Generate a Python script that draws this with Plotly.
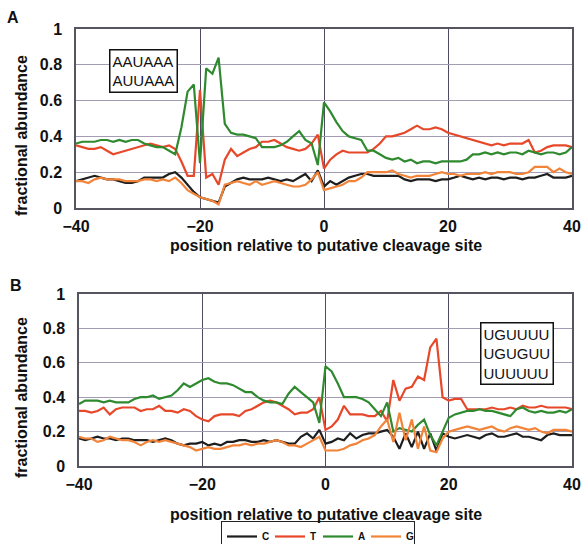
import plotly.graph_objects as go

W, H = 583, 544
positions = list(range(-40, 41))

# Panel A (AAUAAA / AUUAAA)
A_C = [0.15,0.16,0.17,0.18,0.17,0.16,0.16,0.15,0.14,0.14,0.15,0.17,0.17,0.17,0.17,0.19,0.20,0.17,0.13,0.09,
       0.06,0.05,0.04,0.03,0.12,0.14,0.16,0.17,0.16,0.16,0.16,0.17,0.16,0.15,0.16,0.15,0.17,0.19,0.15,0.21,
       0.12,0.15,0.13,0.15,0.17,0.18,0.19,0.19,0.18,0.18,0.18,0.18,0.18,0.16,0.15,0.16,0.16,0.16,0.15,0.16,
       0.16,0.17,0.18,0.17,0.16,0.17,0.16,0.17,0.17,0.16,0.17,0.17,0.16,0.17,0.17,0.18,0.19,0.17,0.17,0.17,0.18]
A_T = [0.35,0.34,0.33,0.33,0.34,0.32,0.30,0.31,0.32,0.33,0.34,0.35,0.36,0.35,0.34,0.35,0.33,0.26,0.18,0.18,
       0.66,0.17,0.19,0.13,0.27,0.33,0.29,0.31,0.33,0.34,0.37,0.37,0.38,0.36,0.34,0.33,0.32,0.33,0.36,0.41,
       0.22,0.27,0.30,0.32,0.31,0.31,0.31,0.31,0.33,0.36,0.40,0.40,0.41,0.42,0.44,0.46,0.44,0.44,0.45,0.44,
       0.42,0.41,0.40,0.39,0.38,0.37,0.36,0.35,0.36,0.35,0.36,0.36,0.36,0.38,0.31,0.32,0.34,0.35,0.35,0.35,0.34]
A_A = [0.36,0.37,0.37,0.37,0.38,0.38,0.37,0.38,0.37,0.38,0.38,0.36,0.35,0.34,0.34,0.32,0.30,0.45,0.65,0.69,
       0.25,0.78,0.75,0.84,0.47,0.42,0.41,0.41,0.40,0.39,0.34,0.34,0.34,0.35,0.37,0.40,0.43,0.38,0.36,0.24,
       0.59,0.54,0.48,0.43,0.40,0.39,0.38,0.32,0.32,0.30,0.28,0.27,0.28,0.26,0.27,0.25,0.26,0.26,0.25,0.26,
       0.26,0.26,0.26,0.27,0.30,0.30,0.31,0.30,0.31,0.30,0.31,0.31,0.30,0.32,0.31,0.30,0.31,0.31,0.30,0.31,0.34]
A_G = [0.15,0.15,0.14,0.16,0.17,0.16,0.16,0.16,0.15,0.15,0.15,0.16,0.16,0.15,0.16,0.15,0.17,0.14,0.10,0.08,
       0.06,0.05,0.04,0.02,0.13,0.14,0.15,0.14,0.13,0.15,0.13,0.14,0.15,0.14,0.13,0.12,0.12,0.13,0.16,0.20,
       0.10,0.11,0.12,0.13,0.15,0.15,0.17,0.20,0.20,0.20,0.20,0.21,0.19,0.18,0.17,0.18,0.18,0.18,0.19,0.20,
       0.19,0.19,0.18,0.19,0.19,0.19,0.20,0.19,0.20,0.20,0.20,0.19,0.19,0.20,0.23,0.23,0.23,0.20,0.22,0.20,0.19]

# Panel B (UGUUUU / UGUGUU / UUUUUU)
B_C = [0.16,0.15,0.16,0.17,0.16,0.16,0.15,0.16,0.16,0.15,0.15,0.15,0.14,0.15,0.16,0.15,0.13,0.12,0.13,0.13,
       0.14,0.12,0.13,0.12,0.14,0.14,0.15,0.15,0.14,0.14,0.15,0.14,0.15,0.14,0.13,0.13,0.17,0.19,0.16,0.21,
       0.13,0.14,0.16,0.15,0.19,0.16,0.18,0.19,0.19,0.20,0.21,0.17,0.10,0.19,0.11,0.20,0.10,0.19,0.09,0.19,
       0.17,0.16,0.17,0.18,0.17,0.16,0.18,0.19,0.17,0.17,0.18,0.19,0.17,0.17,0.16,0.15,0.18,0.19,0.18,0.18,0.18]
B_T = [0.32,0.32,0.31,0.32,0.34,0.30,0.33,0.34,0.34,0.34,0.32,0.33,0.33,0.35,0.32,0.32,0.31,0.33,0.32,0.29,
       0.27,0.26,0.29,0.30,0.30,0.30,0.29,0.32,0.33,0.35,0.37,0.38,0.37,0.35,0.33,0.30,0.31,0.31,0.33,0.40,
       0.21,0.23,0.27,0.35,0.30,0.30,0.30,0.29,0.29,0.32,0.26,0.50,0.38,0.45,0.46,0.52,0.50,0.69,0.74,0.40,
       0.38,0.39,0.39,0.33,0.33,0.33,0.33,0.34,0.33,0.33,0.34,0.33,0.35,0.34,0.34,0.35,0.34,0.34,0.34,0.34,0.33]
B_A = [0.36,0.38,0.38,0.38,0.37,0.38,0.37,0.37,0.37,0.39,0.40,0.40,0.41,0.39,0.40,0.41,0.44,0.48,0.46,0.48,
       0.50,0.51,0.49,0.48,0.48,0.47,0.45,0.43,0.43,0.40,0.38,0.37,0.37,0.36,0.42,0.46,0.43,0.40,0.37,0.25,
       0.58,0.55,0.48,0.40,0.40,0.40,0.39,0.37,0.33,0.29,0.37,0.20,0.22,0.21,0.20,0.24,0.27,0.18,0.12,0.20,
       0.28,0.30,0.31,0.32,0.32,0.33,0.32,0.32,0.31,0.30,0.29,0.33,0.34,0.32,0.31,0.32,0.31,0.31,0.32,0.31,0.33]
B_G = [0.17,0.16,0.16,0.14,0.15,0.17,0.16,0.15,0.15,0.14,0.12,0.14,0.15,0.14,0.15,0.14,0.13,0.12,0.11,0.09,
       0.10,0.11,0.10,0.10,0.11,0.12,0.12,0.13,0.12,0.13,0.13,0.14,0.15,0.14,0.12,0.12,0.11,0.13,0.15,0.17,
       0.09,0.09,0.09,0.10,0.12,0.13,0.15,0.16,0.18,0.23,0.27,0.14,0.31,0.15,0.27,0.10,0.23,0.09,0.08,0.16,
       0.20,0.21,0.22,0.23,0.22,0.21,0.22,0.23,0.21,0.20,0.22,0.23,0.22,0.21,0.22,0.20,0.19,0.21,0.21,0.21,0.20]

series_names = ["C", "T", "A", "G"]
series_colors = ["#1e1e1e", "#e8482a", "#2f8a2f", "#f2843a"]
panelA = [A_C, A_T, A_A, A_G]
panelB = [B_C, B_T, B_A, B_G]

x_ticks = [-40, -20, 0, 20, 40]
y_ticks = [0, 0.2, 0.4, 0.6, 0.8, 1]
y_tick_text = ["0", "0.2", "0.4", "0.6", "0.8", "1"]

def px(x):
    return x / W

def py(y):
    return 1 - y / H

FONT = "Liberation Sans, Arial, sans-serif"
TXT = "#111111"

fig = go.Figure()
for vals, name, col in zip(panelA, series_names, series_colors):
    fig.add_trace(go.Scatter(x=positions, y=vals, mode="lines", name=name,
                             line=dict(color=col, width=2.2), xaxis="x", yaxis="y",
                             showlegend=True))
for vals, name, col in zip(panelB, series_names, series_colors):
    fig.add_trace(go.Scatter(x=positions, y=vals, mode="lines", name=name,
                             line=dict(color=col, width=2.2), xaxis="x2", yaxis="y2",
                             showlegend=False))

tickfont = dict(family=FONT, size=16, color=TXT, weight="bold")
xcommon = dict(range=[-40, 40], tickvals=x_ticks, showgrid=True, gridcolor="#4d4a62",
               gridwidth=1, showline=True, linecolor="#555560", linewidth=1.5, mirror=True,
               zeroline=False, ticks="", automargin=False, tickfont=tickfont,
               ticklabelstandoff=3)
ycommon = dict(range=[0, 1], tickvals=y_ticks, ticktext=y_tick_text, showgrid=True,
               gridcolor="#a39cb2", gridwidth=1, showline=True, linecolor="#555560",
               linewidth=1.5, mirror=True, zeroline=False, ticks="", automargin=False,
               tickfont=tickfont, ticklabelstandoff=9)

fig.update_layout(
    width=W, height=H,
    margin=dict(l=0, r=0, t=0, b=0, autoexpand=False),
    paper_bgcolor="white", plot_bgcolor="white",
    xaxis=dict(domain=[px(76), px(572)], anchor="y", **xcommon),
    yaxis=dict(domain=[py(208), py(29)], anchor="x", **ycommon),
    xaxis2=dict(domain=[px(79), px(572)], anchor="y2", **xcommon),
    yaxis2=dict(domain=[py(466), py(294)], anchor="x2", **ycommon),
    legend=dict(orientation="h", x=px(221), y=py(521), xanchor="left", yanchor="top",
                bordercolor="#222", borderwidth=1, bgcolor="white",
                font=dict(family=FONT, size=10, color=TXT, weight="bold"),
                entrywidth=3, entrywidthmode="pixels", tracegroupgap=0,
                itemwidth=30),
    showlegend=True,
)

def add_text(text, x, y, size, angle=0, bold=True, **kw):
    fig.add_annotation(text=text, x=px(x), y=py(y), xref="paper", yref="paper",
                       xanchor="center", yanchor="middle", showarrow=False,
                       textangle=angle,
                       font=dict(family=FONT, size=size, color=TXT,
                                 weight="bold" if bold else "normal"), **kw)

add_text("A", 13, 17, 16)
add_text("B", 16, 285, 16)

# axis titles
for ycen, xt_y in [(136, 245), (398, 514)]:
    add_text("fractional abundance", 21, ycen, 16, angle=-90)
    add_text("position relative to putative cleavage site", 326, xt_y, 16)

# motif boxes
add_text("AAUAAA<br>AUUAAA", 143, 71, 15, bold=False, align="left",
         bordercolor="#111", borderwidth=1.5, borderpad=2, bgcolor="white")
add_text("UGUUUU<br>UGUGUU<br>UUUUUU", 517, 353, 15, bold=False, align="left",
         bordercolor="#111", borderwidth=1.5, borderpad=2, bgcolor="white")

fig.write_html("out.html", config={"displayModeBar": False},
               post_script="document.body.style.margin='0';document.body.style.padding='0';")
